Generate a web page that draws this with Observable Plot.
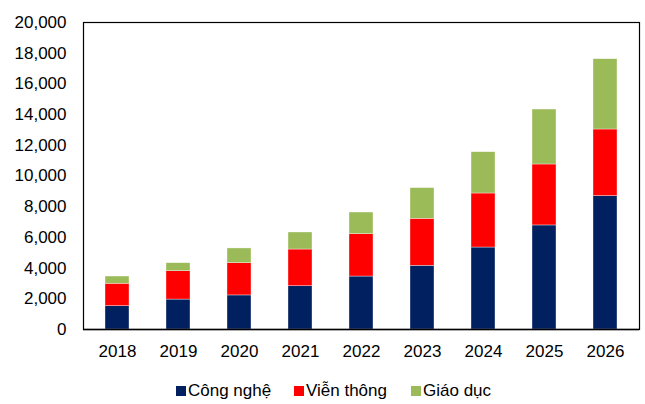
<!DOCTYPE html>
<html>
<head>
<meta charset="utf-8">
<script src="https://cdn.jsdelivr.net/npm/d3@7"></script>
<script src="https://cdn.jsdelivr.net/npm/@observablehq/plot@0.6"></script>
<style>
  html, body { margin: 0; padding: 0; background: #fff; }
  body { width: 645px; height: 404px; font-family: "Liberation Sans", Arial, sans-serif; color: #000; overflow: hidden; }
  #legend { position: relative; height: 32px; font-size: 17px; }
  .item { position: absolute; top: 9px; display: flex; align-items: center; white-space: nowrap; }
  .sw { width: 10px; height: 10px; margin-right: 2px; }
</style>
</head>
<body>
<div id="chart"></div>
<div id="legend"></div>
<script>
const years = ["2018","2019","2020","2021","2022","2023","2024","2025","2026"];
const congNghe = [1520,1950,2220,2820,3450,4150,5340,6780,8690];
const vienThong = [1460,1850,2100,2390,2760,3060,3520,3970,4340];
const giaoDuc = [470,520,960,1110,1410,2000,2690,3580,4580];
const seriesNames = ["Công nghệ","Viễn thông","Giáo dục"];
const seriesColors = ["#002060","#FF0000","#9BBB59"];
const yTicks = [0,2000,4000,6000,8000,10000,12000,14000,16000,18000,20000];

const seriesValues = [congNghe, vienThong, giaoDuc];
const data = [];
years.forEach((yr, i) => {
  seriesNames.forEach((s, j) => data.push({year: yr, series: s, value: seriesValues[j][i]}));
});

const fmt = d3.format(",");
const chart = Plot.plot({
  width: 645,
  height: 372,
  marginLeft: 83,
  marginRight: 6,
  marginTop: 22,
  marginBottom: 43,
  style: {fontFamily: "'Liberation Sans', Arial, sans-serif", color: "#000", background: "#fff"},
  x: {domain: years, paddingInner: 0.6, paddingOuter: 0.3, label: null},
  y: {domain: [0, 20000], label: null},
  color: {domain: seriesNames, range: seriesColors},
  marks: [
    Plot.barY(data, {x: "year", y: "value", fill: "series", stroke: "#fff", strokeWidth: 0.6, strokeOpacity: 0.6}),
    Plot.frame({stroke: "#000", strokeWidth: 1.2}),
    Plot.ruleY([0], {stroke: "#000", strokeWidth: 1.6}),
    Plot.axisX({tickSize: 0, tickPadding: 15, fontSize: 17, label: null}),
    Plot.axisY({ticks: yTicks, tickFormat: fmt, tickSize: 0, tickPadding: 17, fontSize: 17, label: null})
  ]
});
document.getElementById("chart").appendChild(chart);

const legend = document.getElementById("legend");
const lefts = [176, 294, 411];
seriesNames.forEach((s, i) => {
  const it = document.createElement("div");
  it.className = "item";
  it.style.left = lefts[i] + "px";
  const sw = document.createElement("span");
  sw.className = "sw";
  sw.style.background = seriesColors[i];
  const tx = document.createElement("span");
  tx.textContent = s;
  it.appendChild(sw);
  it.appendChild(tx);
  legend.appendChild(it);
});
</script>
</body>
</html>
